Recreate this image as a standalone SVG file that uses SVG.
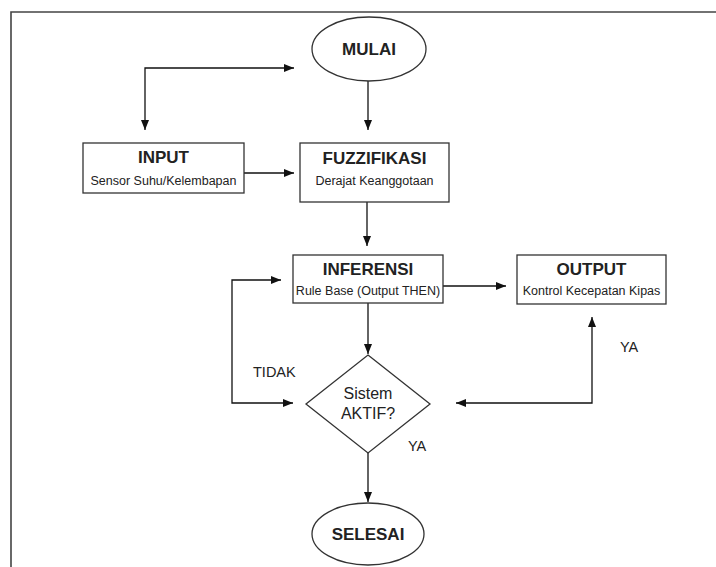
<svg xmlns="http://www.w3.org/2000/svg" width="716" height="567" viewBox="0 0 716 567">
<style>
.box{fill:#fff;stroke:#333;stroke-width:1.3}
.ln{fill:none;stroke:#111;stroke-width:1.3}
.t{font-family:"Liberation Sans",Arial,sans-serif;fill:#222;text-anchor:middle}
.b{font-weight:bold;font-size:17px}
.s{font-size:12.5px}
.m{font-size:16px}
.l{font-family:"Liberation Sans",Arial,sans-serif;fill:#222;font-size:14.5px}
</style>
<defs>
<marker id="ah" viewBox="0 0 10 10" refX="10" refY="5" markerWidth="10" markerHeight="10" markerUnits="userSpaceOnUse" orient="auto-start-reverse">
<path d="M0,1 L10,5 L0,9 Z" fill="#111"/>
</marker>
</defs>
<rect width="716" height="567" fill="#fff"/>
<path d="M11,567 V12 H716" fill="none" stroke="#444" stroke-width="1.6"/>
<g id="connectors">
<path class="ln" d="M368,81 V130" marker-end="url(#ah)"/>
<path class="ln" d="M145,130 V68 H294" marker-start="url(#ah)" marker-end="url(#ah)"/>
<path class="ln" d="M244,173 H294" marker-end="url(#ah)"/>
<path class="ln" d="M367,202 V246" marker-end="url(#ah)"/>
<path class="ln" d="M443,286 H506" marker-end="url(#ah)"/>
<path class="ln" d="M368,303 V354" marker-end="url(#ah)"/>
<path class="ln" d="M293,403 H232 V280 H281" marker-start="url(#ah)" marker-end="url(#ah)"/>
<path class="ln" d="M592,317 V403 H456" marker-start="url(#ah)" marker-end="url(#ah)"/>
<path class="ln" d="M368,453 V502" marker-end="url(#ah)"/>
</g>
<g id="mulai">
<ellipse class="box" cx="369" cy="49" rx="57" ry="32"/>
<text class="t b" x="369" y="55">MULAI</text>
</g>
<g id="input">
<rect class="box" x="83" y="143" width="161" height="50"/>
<text class="t b" x="163.5" y="163">INPUT</text>
<text class="t s" x="163.5" y="185">Sensor  Suhu/Kelembapan</text>
</g>
<g id="fuzzifikasi">
<rect class="box" x="300" y="143" width="149" height="59"/>
<text class="t b" x="374.5" y="164">FUZZIFIKASI</text>
<text class="t s" x="374.5" y="185">Derajat Keanggotaan</text>
</g>
<g id="inferensi">
<rect class="box" x="293" y="255" width="150" height="48"/>
<text class="t b" x="368" y="275">INFERENSI</text>
<text class="t s" x="368" y="295">Rule Base (Output THEN)</text>
</g>
<g id="output">
<rect class="box" x="517" y="255" width="149" height="49"/>
<text class="t b" x="591.5" y="275">OUTPUT</text>
<text class="t s" x="591.5" y="295">Kontrol Kecepatan Kipas</text>
</g>
<g id="decision">
<polygon class="box" points="368,355 430,404 368,453 306,404"/>
<text class="t m" x="368" y="399">Sistem</text>
<text class="t m" x="368" y="419">AKTIF?</text>
</g>
<g id="selesai">
<ellipse class="box" cx="368" cy="534" rx="56" ry="31"/>
<text class="t b" x="368" y="540">SELESAI</text>
</g>
<g id="labels">
<text class="l" x="253" y="377">TIDAK</text>
<text class="l" x="620" y="352">YA</text>
<text class="l" x="408" y="451">YA</text>
</g>
</svg>
